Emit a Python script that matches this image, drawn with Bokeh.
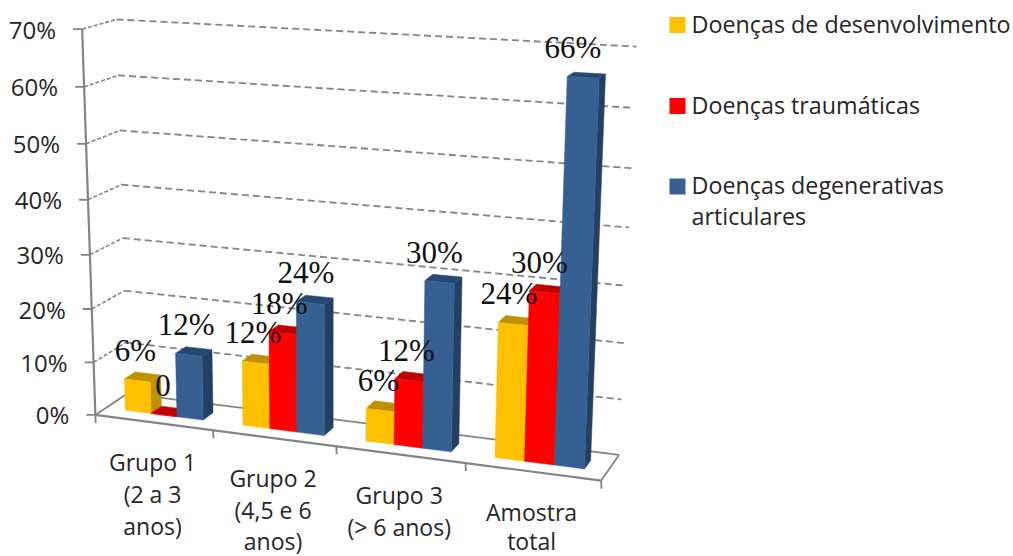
import numpy as np
from bokeh.embed import file_html
from bokeh.models import Range1d
from bokeh.plotting import figure
from bokeh.resources import INLINE
from bokeh.core.properties import value

# Chart content
groups = [["Grupo 1", "(2 a 3", "anos)"],
          ["Grupo 2", "(4,5 e 6", "anos)"],
          ["Grupo 3", "(> 6 anos)"],
          ["Amostra", "total"]]
desenvolvimento = [6, 12, 6, 24]
traumaticas = [0, 18, 12, 30]
degenerativas = [12, 24, 30, 66]
value_labels = [["6%", "12%", "6%", "24%"],
                ["0", "18%", "12%", "30%"],
                ["12%", "24%", "30%", "66%"]]
axis_ticks = [0, 10, 20, 30, 40, 50, 60, 70]
legend_entries = [["Doenças de desenvolvimento"], ["Doenças traumáticas"],
                  ["Doenças degenerativas", "articulares"]]

# Face colours per series: front, top, side
front = ["#FFC000", "#FF0000", "#376092"]
top = ["#BF9000", "#C00000", "#254875"]
side = ["#BF9000", "#C00000", "#233F63"]
GRID = "#848484"
INK = "#262626"
SANS = "Open Sans"
SERIF = "Liberation Serif"

# Camera: category position u (0..4), percent v, depth w (0 front, 1 back) -> screen
calibration = [
    (0, 0, 0, 97, 413), (0, 10, 0, 95, 360), (0, 20, 0, 92, 308), (0, 30, 0, 89.5, 254),
    (0, 40, 0, 87.5, 199), (0, 50, 0, 85, 143), (0, 60, 0, 82, 87), (0, 70, 0, 80, 29),
    (0, 0, 1, 124, 395), (0, 10, 1, 124, 343), (0, 20, 1, 125, 289), (0, 30, 1, 123, 237),
    (0, 40, 1, 121, 184), (0, 50, 1, 120, 130), (0, 60, 1, 118, 75), (0, 70, 1, 117, 19),
    (4, 0, 1, 618, 453), (4, 10, 1, 622, 398), (4, 20, 1, 623, 343), (4, 30, 1, 626, 285),
    (4, 40, 1, 628, 227), (4, 50, 1, 630, 168), (4, 60, 1, 633, 108), (4, 70, 1, 637, 46),
    (1, 0, 0, 212, 432), (2, 0, 0, 335, 447), (3, 0, 0, 465, 463), (4, 0, 0, 601, 480),
]


def fit_camera(rows):
    a, b = [], []
    for u, v, w, sx, sy in rows:
        a.append([u, v, w, 1, 0, 0, 0, 0, -sx * u, -sx * v, -sx * w])
        b.append(sx)
        a.append([0, 0, 0, 0, u, v, w, 1, -sy * u, -sy * v, -sy * w])
        b.append(sy)
    return np.linalg.lstsq(np.array(a, float), np.array(b, float), rcond=None)[0]


cam = fit_camera(calibration)


def project(u, v, w):
    d = cam[8] * u + cam[9] * v + cam[10] * w + 1
    return ((cam[0] * u + cam[1] * v + cam[2] * w + cam[3]) / d,
            (cam[4] * u + cam[5] * v + cam[6] * w + cam[7]) / d)


def path(*corners):
    pts = [project(*c) for c in corners]
    return [q[0] for q in pts], [q[1] for q in pts]


p = figure(width=1013, height=556, x_range=Range1d(0, 1013), y_range=Range1d(556, 0),
           output_backend="svg", toolbar_location=None, min_border=0,
           background_fill_color="white", border_fill_color="white")
p.axis.visible = False
p.grid.visible = False
p.outline_line_color = None


def seg(*corners, dash="solid", width=1.8):
    xs, ys = path(*corners)
    p.line(xs, ys, line_color=GRID, line_width=width, line_dash=dash)


# Gridlines on the side and back walls
for t in axis_ticks[1:]:
    seg((0, t, 0), (0, t, 1), dash="4 2", width=1.6)
    seg((0, t, 1), (4, t, 1), dash="7 4", width=1.8)

# Floor and axes
seg((0, 0, 1), (4, 0, 1))
seg((4, 0, 1), (4, 0, 0))
seg((0, 0, 0), (0, 0, 1))
seg((0, 0, 0), (4, 0, 0), width=2.2)
seg((0, 0, 0), (0, 70, 0), width=2.2)

for t in axis_ticks:
    x, y = project(0, t, 0)
    p.line([x - 9, x], [y, y], line_color=GRID, line_width=1.8)
    p.text([x - 26], [y], text=[f"{t}%"], text_font=value(SANS), text_font_size="24px",
           text_color=INK, text_align="right", text_baseline="middle")

for i in range(5):
    x, y = project(i, 0, 0)
    p.line([x, x + 0.3], [y, y + 8], line_color=GRID, line_width=1.8)

# Category labels hang below the floor edge; the last line stays clear of the page edge
LOWEST_LINE = 540.5
for i, lines in enumerate(groups):
    x, y = project(i + 0.5, 0, 0)
    for k, line in enumerate(lines):
        p.text([x - 1], [min(y + 40 + 32 * k, LOWEST_LINE)], text=[line], text_font=value(SANS),
               text_font_size="23px", text_color=INK, text_align="center",
               text_baseline="middle")

# Bars, painted back-to-front from left to right; gap width is 150% of a bar
BAR = 2 / 9
MARGIN = 1 / 6
W0, W1 = 1 / 3, 2 / 3
series = [desenvolvimento, traumaticas, degenerativas]
for c in range(4):
    for s, vals in enumerate(series):
        v = vals[c]
        u0 = c + MARGIN + s * BAR
        u1 = u0 + BAR
        xs, ys = path((u1, 0, W0), (u1, 0, W1), (u1, v, W1), (u1, v, W0))
        p.patch(xs, ys, fill_color=side[s], line_color=side[s], line_width=0.5)
        xs, ys = path((u0, v, W0), (u1, v, W0), (u1, v, W1), (u0, v, W1))
        p.patch(xs, ys, fill_color=top[s], line_color=top[s], line_width=0.5)
        xs, ys = path((u0, 0, W0), (u1, 0, W0), (u1, v, W0), (u0, v, W0))
        p.patch(xs, ys, fill_color=front[s], line_color=front[s], line_width=0.5)

# Value labels float above each bar, leaning with the perspective of the tall bars
for s, vals in enumerate(series):
    for c, v in enumerate(vals):
        u = c + MARGIN + (s + 0.5) * BAR
        x, y = project(u, v, W0)
        p.text([x - 1 - 0.14 * v], [y - 30], text=[value_labels[s][c]], text_font=value(SERIF),
               text_font_size="31px", text_color="#111111", text_align="center",
               text_baseline="middle")

# Legend
KEY_X = 669
KEY_SIZE = 16
key_y = [24.5, 105.5, 186]
for y0, color, lines in zip(key_y, front, legend_entries):
    p.quad(left=[KEY_X], right=[KEY_X + KEY_SIZE], top=[y0 - KEY_SIZE / 2],
           bottom=[y0 + KEY_SIZE / 2], fill_color=color, line_color=None)
    for k, line in enumerate(lines):
        p.text([691], [y0 - 1.5 + 31 * k], text=[line], text_font=value(SANS),
               text_font_size="23.3px", text_color=INK, text_align="left",
               text_baseline="middle")

open("out.html", "w").write(file_html(p, INLINE))
